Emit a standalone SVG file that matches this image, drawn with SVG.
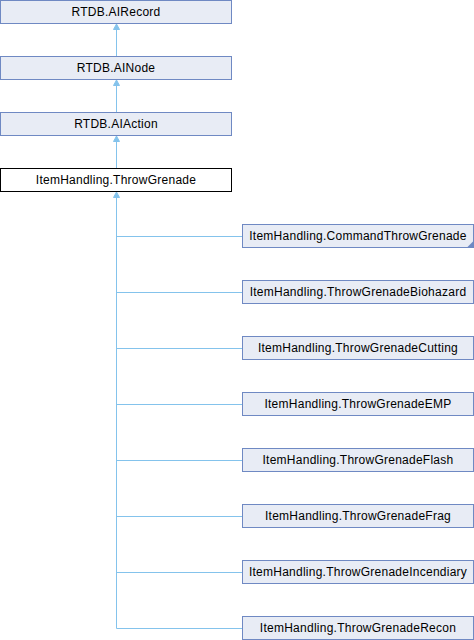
<svg xmlns="http://www.w3.org/2000/svg" width="474" height="640" viewBox="0 0 474 640">
<style>
.n rect{fill:#E8ECF5;stroke:#6F89C3;stroke-width:1}
.n.cur rect{fill:#FFFFFF;stroke:#000000}
.n text{font-family:"Liberation Sans",Arial,sans-serif;font-size:12px;letter-spacing:0.25px;fill:#000;text-anchor:middle}
.e path{fill:none;stroke:#84C3EC;stroke-width:1}
.e polygon{fill:#84C3EC;stroke:#84C3EC;stroke-width:1}
</style>
<rect width="474" height="640" fill="#FFFFFF"/>
<g class="e" id="edges">
<path d="M116.5,56.5V29.5"/><polygon points="116.5,24 113.5,29.5 119.5,29.5"/>
<path d="M116.5,112.5V85.5"/><polygon points="116.5,80 113.5,85.5 119.5,85.5"/>
<path d="M116.5,168.5V141.5"/><polygon points="116.5,136 113.5,141.5 119.5,141.5"/>
<path d="M242.5,236.5H116.5V197.5"/>
<path d="M242.5,292.5H116.5V197.5"/>
<path d="M242.5,348.5H116.5V197.5"/>
<path d="M242.5,404.5H116.5V197.5"/>
<path d="M242.5,460.5H116.5V197.5"/>
<path d="M242.5,516.5H116.5V197.5"/>
<path d="M242.5,572.5H116.5V197.5"/>
<path d="M242.5,628.5H116.5V197.5"/>
<polygon points="116.5,192 113.5,197.5 119.5,197.5"/>
</g>
<g class="n" id="AIRecord"><rect x="0.5" y="0.5" width="231" height="23"/><text x="116" y="16">RTDB.AIRecord</text></g>
<g class="n" id="AINode"><rect x="0.5" y="56.5" width="231" height="23"/><text x="116" y="72">RTDB.AINode</text></g>
<g class="n" id="AIAction"><rect x="0.5" y="112.5" width="231" height="23"/><text x="116" y="128">RTDB.AIAction</text></g>
<g class="n cur" id="ThrowGrenade"><rect x="0.5" y="168.5" width="231" height="23"/><text x="116" y="184">ItemHandling.ThrowGrenade</text></g>
<g class="n" id="CommandThrowGrenade"><rect x="242.5" y="224.5" width="231" height="23"/><polygon points="467,247.5 473.5,247.5 473.5,241" fill="#6F89C3"/><text x="358" y="240">ItemHandling.CommandThrowGrenade</text></g>
<g class="n" id="ThrowGrenadeBiohazard"><rect x="242.5" y="280.5" width="231" height="23"/><text x="358" y="296">ItemHandling.ThrowGrenadeBiohazard</text></g>
<g class="n" id="ThrowGrenadeCutting"><rect x="242.5" y="336.5" width="231" height="23"/><text x="358" y="352">ItemHandling.ThrowGrenadeCutting</text></g>
<g class="n" id="ThrowGrenadeEMP"><rect x="242.5" y="392.5" width="231" height="23"/><text x="358" y="408">ItemHandling.ThrowGrenadeEMP</text></g>
<g class="n" id="ThrowGrenadeFlash"><rect x="242.5" y="448.5" width="231" height="23"/><text x="358" y="464">ItemHandling.ThrowGrenadeFlash</text></g>
<g class="n" id="ThrowGrenadeFrag"><rect x="242.5" y="504.5" width="231" height="23"/><text x="358" y="520">ItemHandling.ThrowGrenadeFrag</text></g>
<g class="n" id="ThrowGrenadeIncendiary"><rect x="242.5" y="560.5" width="231" height="23"/><text x="358" y="576">ItemHandling.ThrowGrenadeIncendiary</text></g>
<g class="n" id="ThrowGrenadeRecon"><rect x="242.5" y="616.5" width="231" height="23"/><text x="358" y="632">ItemHandling.ThrowGrenadeRecon</text></g>
</svg>
